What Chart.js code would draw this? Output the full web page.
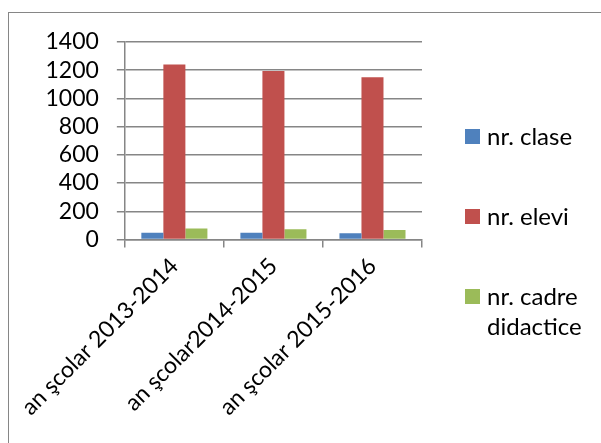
<!DOCTYPE html>
<html>
<head>
<meta charset="utf-8">
<script src="https://cdn.jsdelivr.net/npm/chart.js@4"></script>
<style>
  html, body { margin: 0; padding: 0; background: #fff; }
  #wrap { position: relative; width: 601px; height: 443px; overflow: hidden; font-family: Lato, "Noto Sans", sans-serif; }
  #frame { position: absolute; left: 8px; top: 12px; width: 640px; height: 480px; border: 1.5px solid #868686; box-sizing: border-box; }
  #chartBox { position: absolute; left: 0; top: 0; width: 601px; height: 443px; }
  #legend { position: absolute; left: 465px; top: 121px; width: 130px; }
  .legend-item { display: flex; align-items: flex-start; height: 80px; }
  .legend-item .sw { width: 15px; height: 15px; flex: none; margin-top: 8px; margin-right: 7px; }
  .legend-item .lbl { font-size: 24px; line-height: 30px; color: #000; width: 110px; }
</style>
</head>
<body>
<div id="wrap">
  <div id="frame"></div>
  <div id="chartBox"><canvas id="chart" width="601" height="443"></canvas></div>
  <div id="legend"></div>
</div>
<script>
(function(){
  var categories = ["an şcolar 2013-2014", "an şcolar2014-2015", "an şcolar 2015-2016"];
  var seriesNames = ["nr. clase", "nr. elevi", "nr. cadre didactice"];
  var clase = [48, 48, 44];
  var elevi = [1240, 1195, 1150];
  var cadre = [78, 73, 68];
  var yTicks = [0, 200, 400, 600, 800, 1000, 1200, 1400];

  var COLORS = ["#4f81bd", "#c0504d", "#9bbb59"];
  var GRID = "#868686";

  var values = [clase, elevi, cadre];
  var datasets = seriesNames.map(function(name, i){
    return { label: name, data: values[i], backgroundColor: COLORS[i], borderWidth: 0,
             categoryPercentage: 0.667, barPercentage: 1 };
  });

  new Chart(document.getElementById("chart"), {
    type: "bar",
    data: { labels: categories, datasets: datasets },
    options: {
      responsive: false,
      animation: false,
      layout: { padding: { left: 0, top: 42, right: 179, bottom: 0 } },
      plugins: { legend: { display: false }, tooltip: { enabled: false } },
      scales: {
        x: {
          grid: { drawOnChartArea: false, drawTicks: true, tickLength: 8, color: GRID, lineWidth: 1.5, offset: true },
          border: { display: true, color: GRID, width: 1.5 },
          ticks: { color: "#000", font: { family: "Lato", size: 23 }, minRotation: 45, maxRotation: 45, autoSkip: false, padding: 5 },
          afterFit: function(scale){ scale.height = 443 - 239.5; }
        },
        y: {
          min: 0, max: yTicks[yTicks.length - 1],
          afterBuildTicks: function(scale){ scale.ticks = yTicks.map(function(v){ return { value: v }; }); },
          grid: { color: GRID, lineWidth: 1.5, tickLength: 8 },
          border: { display: true, color: GRID, width: 1.5 },
          ticks: { color: "#000", font: { family: "Lato", size: 23 }, padding: 18, autoSkip: false,
                   callback: function(v){ return String(v); } },
          afterFit: function(scale){ scale.width = 124; }
        }
      }
    }
  });

  var legend = document.getElementById("legend");
  legend.innerHTML = seriesNames.map(function(name, i){
    return '<div class="legend-item"><span class="sw" style="background:' + COLORS[i] + '"></span><span class="lbl">' + name + '</span></div>';
  }).join("");
})();
</script>
</body>
</html>
